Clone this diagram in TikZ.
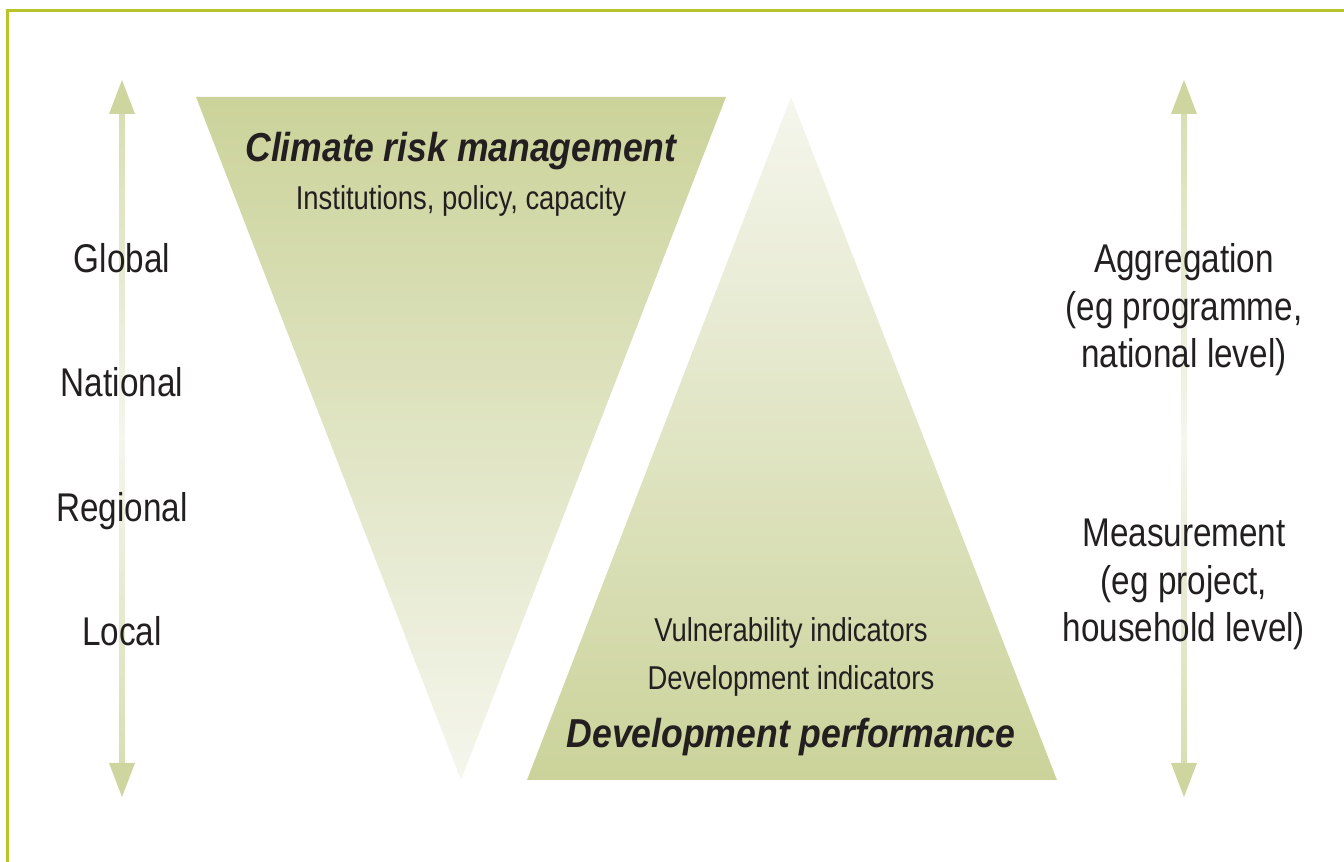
\documentclass[tikz,border=0pt]{standalone}
\usepackage{fontspec}
\setmainfont{Liberation Sans}[FakeStretch=0.83]
\newfontfamily\headfont{Liberation Sans}[FakeStretch=0.88]
\usepackage{xcolor}
\usetikzlibrary{shapes}

\definecolor{framegreen}{RGB}{184,196,42}
\definecolor{sage}{RGB}{203,211,154}
\definecolor{pale}{RGB}{245,246,237}
\definecolor{ink}{RGB}{35,31,32}

\begin{document}
\begin{tikzpicture}[x=0.01cm, y=-0.01cm,
	lbl/.style={anchor=base, inner sep=0pt, text=ink, font=\fontsize{11.4}{13}\selectfont},
	small/.style={anchor=base, inner sep=0pt, text=ink, font=\fontsize{9.4}{11}\selectfont},
	head/.style={anchor=base, inner sep=0pt, text=ink, font=\headfont\bfseries\itshape\fontsize{11.5}{13}\selectfont}]

	\useasboundingbox (0,0) rectangle (1344,862);

	%frame (left and top edges only)
	\draw[color=framegreen, line width=0.03cm] (7.5,862) -- (7.5,10.5) -- (1344,10.5);

	%shaded triangles
	\shade[top color=sage, bottom color=pale] (196,97) -- (726,97) -- (461,780) -- cycle;
	\shade[top color=pale, bottom color=sage] (791,97) -- (1057,780) -- (527,780) -- cycle;


	% scale arrows
	% left arrow
	\shade[top color=sage!75, bottom color=pale] (119.5,113) rectangle (124.5,439);
	\shade[top color=pale, bottom color=sage!75] (119.5,439) rectangle (124.5,764);
	\fill[color=sage!95] (122,80) -- (135,114) -- (109,114) -- cycle;
	\fill[color=sage!95] (122,797) -- (135,763) -- (109,763) -- cycle;
	% right arrow
	\shade[top color=sage!75, bottom color=pale] (1181.5,113) rectangle (1186.5,439);
	\shade[top color=pale, bottom color=sage!75] (1181.5,439) rectangle (1186.5,764);
	\fill[color=sage!95] (1184,80) -- (1197,114) -- (1171,114) -- cycle;
	\fill[color=sage!95] (1184,797) -- (1197,763) -- (1171,763) -- cycle;


	% Text nodes
	% levels
	\node[lbl] (global) at (122,273) {Global};
	\node[lbl] (national) at (122,397) {National};
	\node[lbl] (regional) at (122,522) {Regional};
	\node[lbl] (local) at (122,646) {Local};

	% top triangle
	\node[head] (crm) at (461,162) {Climate risk management};
	\node[small] (inst) at (461,210) {Institutions, policy, capacity};

	% bottom triangle
	\node[small] (vuln) at (791,642) {Vulnerability indicators};
	\node[small] (devind) at (791,690) {Development indicators};
	\node[head] (devperf) at (791,748) {Development performance};

	% right side
	\node[lbl] (agg) at (1184,273) {Aggregation};
	\node[lbl] (agga) at (1184,321) {(eg programme,};
	\node[lbl] (aggb) at (1184,368) {national level)};
	\node[lbl] (meas) at (1184,547) {Measurement};
	\node[lbl] (measa) at (1184,595) {(eg project,};
	\node[lbl] (measb) at (1184,642) {household level)};
\end{tikzpicture}
\end{document}
